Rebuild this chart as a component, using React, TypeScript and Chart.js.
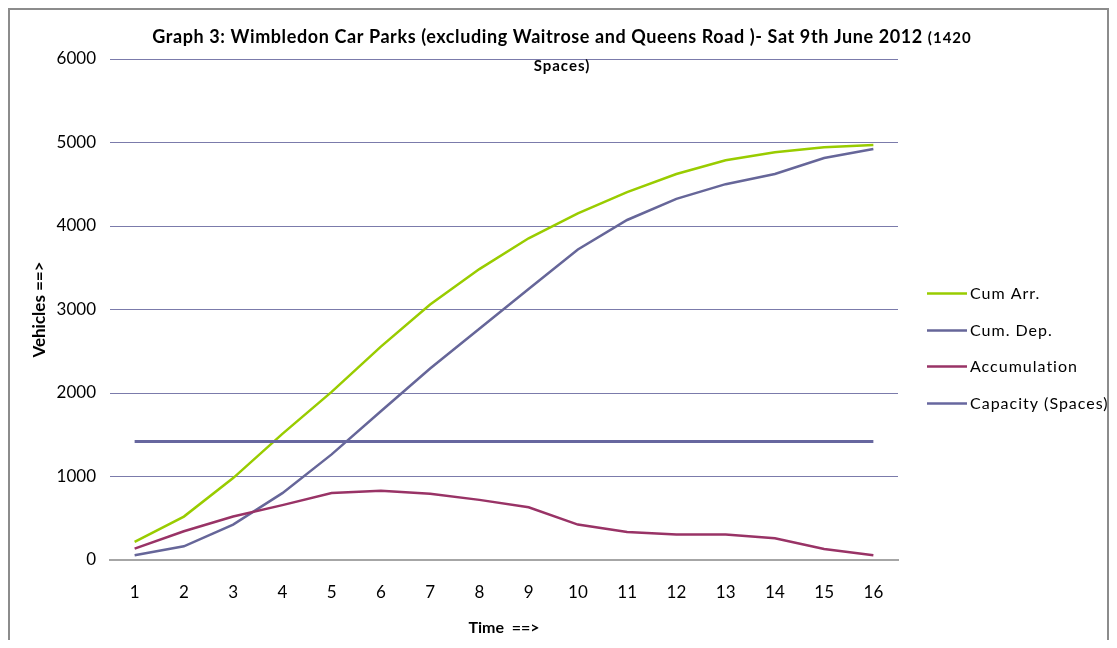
import React, { useEffect, useRef } from 'react';
import { Chart, registerables } from 'chart.js';

Chart.register(...registerables);

const FONT = "Lato, 'Open Sans', 'DejaVu Sans', sans-serif";

// ---- data ----
const timeLabels = ['1', '2', '3', '4', '5', '6', '7', '8', '9', '10', '11', '12', '13', '14', '15', '16'];
const cumArr = [216, 520, 981, 1510, 2014, 2555, 3060, 3484, 3853, 4152, 4405, 4622, 4787, 4883, 4943, 4971];
const cumDep = [56, 164, 424, 801, 1265, 1782, 2294, 2770, 3246, 3718, 4072, 4325, 4501, 4622, 4815, 4923];
const accumulation = [136, 344, 520, 657, 801, 829, 792, 720, 632, 424, 336, 304, 304, 260, 132, 56];
const capacitySpaces = [1420, 1420, 1420, 1420, 1420, 1420, 1420, 1420, 1420, 1420, 1420, 1420, 1420, 1420, 1420, 1420];
const yMin = 0;
const yMax = 6000;
const yStep = 1000;

const seriesNames = ['Cum Arr.', 'Cum. Dep.', 'Accumulation', 'Capacity (Spaces)'];
const titleMain = 'Graph 3: Wimbledon Car Parks (excluding Waitrose and Queens Road )- Sat 9th June 2012 ';
const titleSuffix = '(1420';
const titleLine2 = 'Spaces)';
const yAxisTitle = 'Vehicles ==>';
const xAxisTitle = 'Time  ==>';

const COLORS = ['#99cc00', '#666699', '#993366', '#67679f'];

const titlePlugin = {
  id: 'excelTitle',
  afterDraw(chart: any) {
    const ctx = chart.ctx as any;
    ctx.save();
    ctx.fillStyle = '#000';
    ctx.textBaseline = 'middle';
    const big = `bold 18px ${FONT}`;
    const small = `bold 15px ${FONT}`;
    ctx.letterSpacing = '0.6px';
    ctx.font = big;
    const w1 = ctx.measureText(titleMain).width;
    ctx.letterSpacing = '1px';
    ctx.font = small;
    const w2 = ctx.measureText(titleSuffix).width;
    const cx = 552;
    const x = cx - (w1 + w2) / 2;
    ctx.textAlign = 'left';
    ctx.letterSpacing = '0.6px';
    ctx.font = big;
    ctx.fillText(titleMain, x, 27);
    ctx.letterSpacing = '1px';
    ctx.font = small;
    ctx.fillText(titleSuffix, x + w1, 28);
    ctx.textAlign = 'center';
    ctx.fillText(titleLine2, cx, 56);
    ctx.restore();
  },
};

const legendPlugin = {
  id: 'sideLegend',
  afterDraw(chart: any) {
    const ctx = chart.ctx as any;
    const x0 = chart.chartArea.right + 29;
    const y0 = 283;
    const dy = 36.7;
    ctx.save();
    ctx.font = `16px ${FONT}`;
    ctx.letterSpacing = '1px';
    ctx.textBaseline = 'middle';
    ctx.textAlign = 'left';
    chart.data.datasets.forEach((ds: any, i: number) => {
      const y = Math.round(y0 + i * dy) + 0.5;
      ctx.strokeStyle = ds.borderColor;
      ctx.lineWidth = 2.5;
      ctx.beginPath();
      ctx.moveTo(x0, y);
      ctx.lineTo(x0 + 40, y);
      ctx.stroke();
      ctx.fillStyle = '#000';
      ctx.fillText(ds.label, x0 + 43, y);
    });
    ctx.restore();
  },
};

export default function App() {
  const canvasRef = useRef<HTMLCanvasElement | null>(null);

  useEffect(() => {
    if (!canvasRef.current) return;
    const series = [cumArr, cumDep, accumulation, capacitySpaces];
    const chart = new Chart(canvasRef.current, {
      type: 'line',
      data: {
        labels: timeLabels,
        datasets: series.map((d, i) => ({
          label: seriesNames[i],
          data: d,
          borderColor: COLORS[i],
          backgroundColor: COLORS[i],
          borderWidth: i === 3 ? 3 : 2.5,
          pointRadius: 0,
          pointHoverRadius: 0,
          tension: 0,
          fill: false,
          order: 4 - i,
        })),
      },
      options: {
        responsive: false,
        devicePixelRatio: 1,
        animation: false,
        events: [],
        layout: { padding: { left: 19, right: 209, top: 49, bottom: 0 } },
        plugins: {
          legend: { display: false },
          title: { display: false },
          tooltip: { enabled: false },
        },
        scales: {
          x: {
            type: 'category',
            offset: true,
            grid: { display: false, drawTicks: false },
            border: { display: true, color: '#a6a6a6', width: 2 },
            ticks: {
              color: '#000',
              padding: 22,
              font: { family: FONT, size: 17 },
              maxRotation: 0,
              autoSkip: false,
            },
            title: {
              display: true,
              text: xAxisTitle,
              color: '#000',
              font: { family: FONT, size: 16, weight: 'bold' },
              padding: { top: 0, bottom: 3 },
            },
            afterFit: (s: any) => {
              s.height = 80;
            },
          },
          y: {
            min: yMin,
            max: yMax,
            border: { display: false },
            grid: {
              drawTicks: false,
              color: (c: any) => (c.tick && c.tick.value === 0 ? 'rgba(0,0,0,0)' : '#7b7bab'),
              lineWidth: 1,
            },
            ticks: {
              stepSize: yStep,
              color: '#000',
              padding: 14,
              font: { family: FONT, size: 17 },
              callback: (v: any) => String(v),
            },
            title: {
              display: true,
              text: yAxisTitle,
              color: '#000',
              font: { family: FONT, size: 17, weight: 'bold' },
              padding: { top: 0, bottom: 0 },
            },
            afterFit: (s: any) => {
              s.width = 81;
            },
          },
        },
      },
      plugins: [titlePlugin, legendPlugin],
    });
    return () => chart.destroy();
  }, []);

  return (
    <div
      style={{
        width: 1101,
        height: 632,
        boxSizing: 'border-box',
        borderTop: '2px solid #8c8c8c',
        borderLeft: '2px solid #8c8c8c',
        borderRight: '2px solid #8c8c8c',
        background: '#fff',
      }}
    >
      <canvas ref={canvasRef} width={1097} height={630} style={{ display: 'block', width: 1097, height: 630 }} />
    </div>
  );
}
